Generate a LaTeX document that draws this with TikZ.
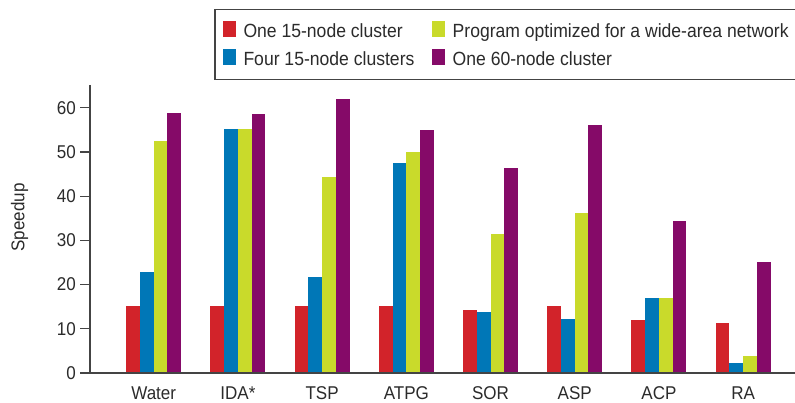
\documentclass[tikz,border=0pt]{standalone}
\usepackage{fontspec}
\setmainfont{Liberation Sans}
\newfontfamily\condfont[FakeStretch=0.92]{Liberation Sans}
\definecolor{cred}{HTML}{D2232A}
\definecolor{cblue}{HTML}{0077B7}
\definecolor{cgreen}{HTML}{C9DA2B}
\definecolor{cpurple}{HTML}{850A68}
\definecolor{txtgray}{HTML}{2B2B2B}
\definecolor{axgray}{HTML}{444444}
\tikzset{
  lbl/.style={text=txtgray, inner sep=0pt, font=\condfont\fontsize{18.5}{20}\selectfont},
  leglbl/.style={text=txtgray, inner sep=0pt, font=\condfont\fontsize{19.1}{20}\selectfont, anchor=base west},
  axisline/.style={draw=axgray, line width=1.5pt},
  tickline/.style={draw=axgray, line width=1.2pt},
  legbox/.style={draw=axgray, line width=1.2pt}
}
\begin{document}
\begin{tikzpicture}[x=1pt,y=-1pt]
\useasboundingbox (0,0) rectangle (795,403);
\fill[white] (0,0) rectangle (795,403);
% bars
\foreach \i/\nm/\a/\b/\c/\d in {0/Water/15.2/22.9/52.4/58.9, 1/IDA*/15.2/55.1/55.3/58.7, 2/TSP/15.1/21.8/44.4/62.1, 3/ATPG/15.1/47.4/50.1/54.9, 4/SOR/14.3/13.9/31.5/46.3, 5/ASP/15.2/12.2/36.3/56.2, 6/ACP/12.1/17.0/17.0/34.5, 7/RA/11.2/2.3/3.9/25.0}{
  \pgfmathsetmacro\cx{153.7+84.2*\i}
  \fill[cred] (\cx-27.5,373) rectangle (\cx-13.75,373-4.42*\a);
  \fill[cblue] (\cx-13.75,373) rectangle (\cx,373-4.42*\b);
  \fill[cgreen] (\cx,373) rectangle (\cx+13.75,373-4.42*\c);
  \fill[cpurple] (\cx+13.75,373) rectangle (\cx+27.5,373-4.42*\d);
  \node[lbl, anchor=base] (cat\i) at (\cx,399.3) {\nm};
}
% axes
\coordinate (ytop) at (90,85);
\coordinate (orig) at (90,373);
\coordinate (xend) at (800,373);
\draw[axisline] (ytop) -- (orig);
\draw[axisline] (orig) -- (xend);
\foreach \v in {0,...,6}{
  \pgfmathtruncatemacro\lab{10*\v}
  \coordinate (tk\v) at (90,373-44.2*\v);
  \draw[tickline] (tk\v) -- ++(-10,0);
  \node[lbl, anchor=east] (tl\v) at (76,373-44.2*\v) {\lab};
}
\node[lbl, rotate=90] (ylab) at (19.5,217.5) {Speedup};
% legend
\draw[legbox] (215,9.5) rectangle (812,79.5);
\fill[cred] (222.5,21) rectangle (236,37);
\node[leglbl] (l1) at (243.3,37.3) {One 15-node cluster};
\fill[cblue] (222.5,49.5) rectangle (236,65.5);
\node[leglbl] (l2) at (243.3,65.5) {Four 15-node clusters};
\fill[cgreen] (431.5,21) rectangle (445,37);
\node[leglbl] (l3) at (452.5,37.3) {Program optimized for a wide-area network};
\fill[cpurple] (431.5,49.5) rectangle (445,65.5);
\node[leglbl] (l4) at (452.5,65.5) {One 60-node cluster};
\end{tikzpicture}
\end{document}
